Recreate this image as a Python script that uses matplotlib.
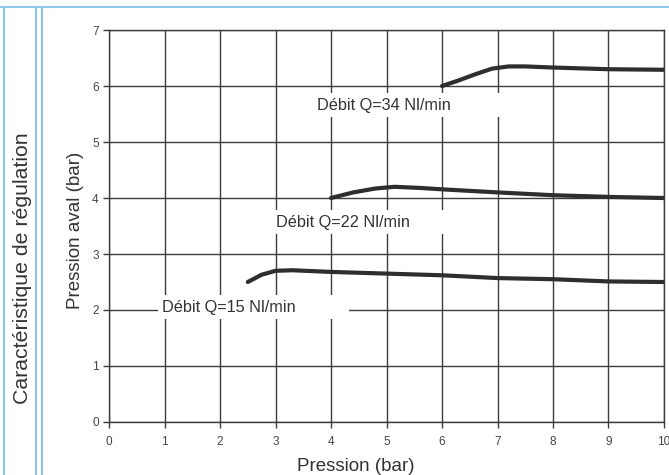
import matplotlib
matplotlib.use("Agg")
import matplotlib.pyplot as plt
from matplotlib.lines import Line2D

plt.rcParams['font.family'] = ['Liberation Sans', 'DejaVu Sans']

# data
x_34 = [6.0, 6.3, 6.6, 6.9, 7.2, 7.5, 8.0, 9.0, 10.0]
y_34 = [6.0, 6.1, 6.21, 6.31, 6.35, 6.35, 6.33, 6.30, 6.29]

x_22 = [4.0, 4.4, 4.8, 5.15, 5.6, 6.0, 7.0, 8.0, 9.0, 10.0]
y_22 = [4.0, 4.1, 4.17, 4.2, 4.18, 4.155, 4.1, 4.05, 4.02, 4.0]

x_15 = [2.5, 2.75, 3.0, 3.3, 4.0, 5.0, 6.0, 7.0, 8.0, 9.0, 10.0]
y_15 = [2.5, 2.63, 2.7, 2.71, 2.68, 2.65, 2.62, 2.57, 2.55, 2.51, 2.5]

labels = ["Débit Q=34 Nl/min", "Débit Q=22 Nl/min", "Débit Q=15 Nl/min"]
label_pos = [(3.75, 5.66), (3.01, 3.57), (0.95, 2.05)]

xticks = list(range(0, 11))
yticks = list(range(0, 8))

grid_c = '#3c3c3c'
line_c = '#2e2e2e'
blue = '#8cc8ea'

fig = plt.figure(figsize=(6.69, 4.75), dpi=100)
ax = fig.add_axes([0.163, 0.1116, 0.8295, 0.8252])

for xs, ys in [(x_34, y_34), (x_22, y_22), (x_15, y_15)]:
    ax.plot(xs, ys, color=line_c, lw=3, solid_capstyle='round', zorder=3)

for txt, (tx, ty) in zip(labels, label_pos):
    ax.text(tx, ty, txt + " " * 11, fontsize=11.7, color='#333333', va='center', ha='left',
            bbox=dict(facecolor='white', edgecolor='none', pad=3), zorder=2)

ax.set_xlim(0, 10)
ax.set_ylim(0, 7)
ax.set_xticks(xticks)
ax.set_yticks(yticks)
ax.grid(True, color=grid_c, lw=1)
ax.set_axisbelow(True)
for s in ax.spines.values():
    s.set_color(grid_c)
    s.set_linewidth(1)
ax.tick_params(colors=grid_c, labelcolor='#444444', labelsize=8.5, length=4, width=1)
ax.tick_params(axis='x', pad=6)
ax.set_xlabel("Pression (bar)", fontsize=13.5, color='#333333', va='top')
ax.set_ylabel("Pression aval (bar)", fontsize=13.5, color='#333333')
ax.xaxis.set_label_coords(0.444, -0.092)
ax.yaxis.set_label_coords(-0.045, 0.49)

fig.text(0.033, 0.436, "Caractéristique de régulation", rotation=90, fontsize=15.3,
         color='#333333', ha='center', va='center')

# light blue frame lines
fig.add_artist(Line2D([0, 1], [0.985, 0.985], color=blue, lw=1.5, transform=fig.transFigure))
for xp in [4, 36, 42]:
    fig.add_artist(Line2D([xp / 669, xp / 669], [0, 0.985], color=blue, lw=1.5,
                          transform=fig.transFigure))

fig.savefig("out.png", dpi=100)
